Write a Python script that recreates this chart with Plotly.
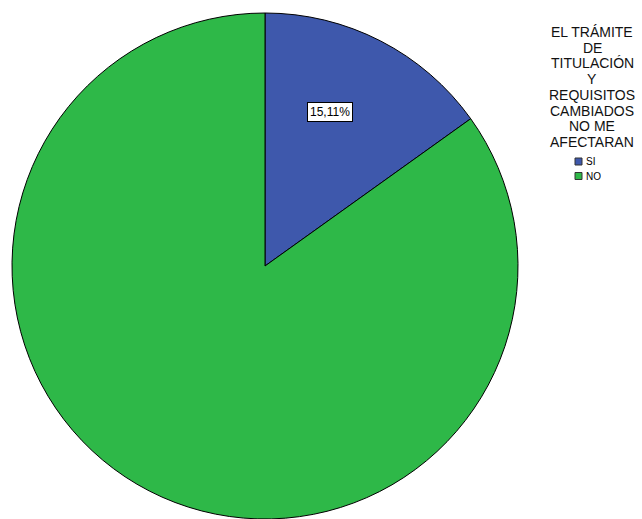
import math
import plotly.graph_objects as go

# ---- data ----
categories = ["SI", "NO"]
percentages = [15.11, 84.89]
slice_labels = ["15,11%", ""]
colors = ["#3E58AC", "#2EB848"]
legend_title_lines = ["EL TRÁMITE", "DE", "TITULACIÓN", "Y", "REQUISITOS",
                      "CAMBIADOS", "NO ME", "AFECTARAN"]

W, H = 642, 519
cx, cy, R = 265, 266, 253

fig = go.Figure(go.Pie(
    labels=categories,
    values=percentages,
    sort=False,
    direction="clockwise",
    rotation=0,
    marker=dict(colors=colors, line=dict(color="#000000", width=1)),
    textinfo="none",
    hoverinfo="label+percent",
    showlegend=False,
    domain=dict(x=[(cx - R) / W, (cx + R) / W], y=[max(0, (H - cy - R) / H), (H - cy + R) / H]),
))

annotations = []
# slice label, placed from the slice's mid-angle
cum = 0
total = sum(percentages)
for lab, v in zip(slice_labels, percentages):
    mid = (cum + v / 2) / total * 2 * math.pi
    cum += v
    if not lab:
        continue
    rr = 0.685 * R
    px = cx + rr * math.sin(mid) - 14
    py = cy - rr * math.cos(mid)
    annotations.append(dict(
        x=px / W, y=1 - py / H, xref="paper", yref="paper",
        text=lab, showarrow=False,
        font=dict(family="Liberation Sans, Arial", size=12, color="#000000"),
        bgcolor="#FFFFFF", bordercolor="#000000", borderwidth=1, borderpad=2,
        xanchor="center", yanchor="middle",
    ))

# legend title lines
base0, step = 37, 15.7
for i, line in enumerate(legend_title_lines):
    baseline = base0 + i * step
    annotations.append(dict(
        x=592 / W, y=1 - (baseline - 5) / H, xref="paper", yref="paper",
        text=line, showarrow=False,
        font=dict(family="Liberation Sans, Arial", size=14, color="#111111"),
        xanchor="center", yanchor="middle",
    ))

shapes = []
item_y = [161.5, 176]
for cat, col, yy in zip(categories, colors, item_y):
    shapes.append(dict(type="rect", xref="paper", yref="paper",
                       x0=575 / W, x1=582 / W, y0=1 - (yy - 3.5) / H, y1=1 - (yy + 3.5) / H,
                       fillcolor=col, line=dict(color="#333333", width=1)))
    annotations.append(dict(
        x=584 / W, y=1 - yy / H, xref="paper", yref="paper",
        text=cat, showarrow=False,
        font=dict(family="Liberation Sans, Arial", size=10, color="#000000"),
        xanchor="left", yanchor="middle",
    ))

fig.update_layout(
    width=W, height=H,
    margin=dict(l=0, r=0, t=0, b=0),
    paper_bgcolor="#FFFFFF", plot_bgcolor="#FFFFFF",
    annotations=annotations, shapes=shapes,
)

fig.write_html("out.html",
               config={"displayModeBar": False},
               post_script="document.body.style.margin='0';document.body.style.overflow='hidden';")
